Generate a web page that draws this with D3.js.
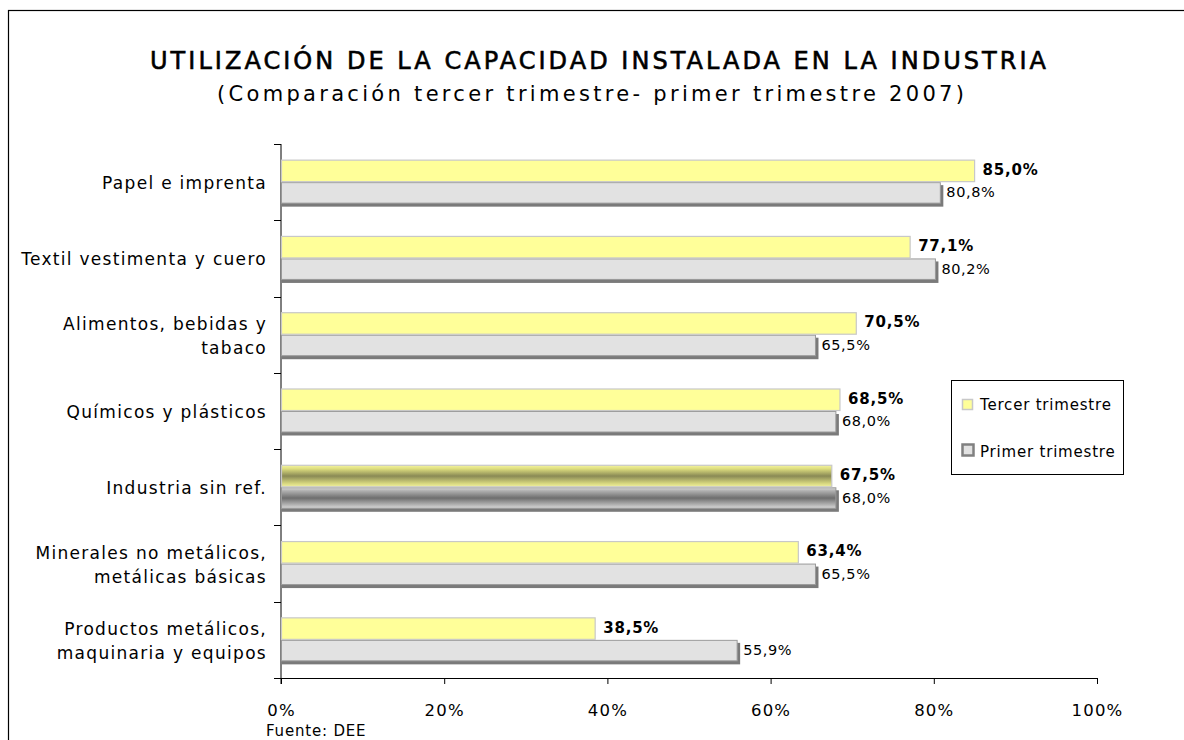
<!DOCTYPE html>
<html><head><meta charset="utf-8">
<script src="https://cdn.jsdelivr.net/npm/d3@7"></script>
<style>
body{margin:0;background:#fff;}
text{font-family:"DejaVu Sans",Verdana,sans-serif;}
</style></head>
<body><svg id="c" width="1184" height="740"></svg>
<script>
const categories = [
  ["Papel e imprenta"],
  ["Textil vestimenta y cuero"],
  ["Alimentos, bebidas y","tabaco"],
  ["Químicos y plásticos"],
  ["Industria sin ref."],
  ["Minerales no metálicos,","metálicas básicas"],
  ["Productos metálicos,","maquinaria y equipos"]
];
const tercer = [85.0, 77.1, 70.5, 68.5, 67.5, 63.4, 38.5];
const primer = [80.8, 80.2, 65.5, 68.0, 68.0, 65.5, 55.9];
const xTicks = [0, 20, 40, 60, 80, 100];
const highlightIndex = 4;

const svg = d3.select("#c");
const defs = svg.append("defs");
const gy = defs.append("linearGradient").attr("id","gy").attr("x1",0).attr("x2",0).attr("y1",0).attr("y2",1);
[[0,"#f4f4a0"],[0.15,"#e0e080"],[0.5,"#8a8a55"],[0.85,"#d8d880"],[1,"#f0f0a0"]].forEach(s=>gy.append("stop").attr("offset",s[0]).attr("stop-color",s[1]));
const gg = defs.append("linearGradient").attr("id","gg").attr("x1",0).attr("x2",0).attr("y1",0).attr("y2",1);
[[0,"#d8d8d8"],[0.15,"#b0b0b0"],[0.5,"#6e6e6e"],[0.85,"#b8b8b8"],[1,"#d8d8d8"]].forEach(s=>gg.append("stop").attr("offset",s[0]).attr("stop-color",s[1]));

// frame
svg.append("rect").attr("x",8.5).attr("y",10.5).attr("width",1200).attr("height",800)
  .attr("fill","none").attr("stroke","#000").attr("stroke-width",1.2);

// title
svg.append("text").attr("x",150).attr("y",69)
  .attr("font-size",24).attr("fill","#000").attr("stroke","#000").attr("stroke-width",0.6)
  .attr("textLength",896).attr("lengthAdjust","spacing")
  .text("UTILIZACIÓN DE LA CAPACIDAD INSTALADA EN LA INDUSTRIA");
svg.append("text").attr("x",217).attr("y",101)
  .attr("font-size",21).attr("fill","#000")
  .attr("textLength",747).attr("lengthAdjust","spacing")
  .text("(Comparación tercer trimestre- primer trimestre 2007)");

const x0 = 281, x1 = 1097, yTop = 144, yBot = 678;
const x = d3.scaleLinear().domain([0,100]).range([x0,x1]);
const y = d3.scaleBand().domain(d3.range(categories.length)).range([yTop,yBot]).paddingInner(0.41).paddingOuter(0.205);
const bh = y.bandwidth()/2;

// axes
const xAxis = d3.axisBottom(x).tickValues(xTicks).tickFormat(d=>d+"%").tickSize(6).tickSizeOuter(0);
const gx = svg.append("g").attr("transform",`translate(0,${yBot})`).call(xAxis);
gx.select(".domain").attr("stroke","#000");
gx.selectAll(".tick line").attr("stroke","#000");
gx.selectAll(".tick text").attr("font-size",16.5).attr("fill","#000").attr("dy","1.75em")
  .attr("letter-spacing",1.2)
  .attr("font-family","'DejaVu Sans',Verdana,sans-serif");

const yb = d3.scaleLinear().domain([0,categories.length]).range([yTop,yBot]);
const gyAxis = svg.append("g");
gyAxis.append("line").attr("x1",x0).attr("x2",x0).attr("y1",yTop).attr("y2",yBot+6).attr("stroke","#000");
gyAxis.selectAll("line.t").data(d3.range(categories.length+1)).join("line").attr("class","t")
  .attr("x1",x0-7).attr("x2",x0).attr("y1",d=>Math.round(yb(d))+0.5).attr("y2",d=>Math.round(yb(d))+0.5).attr("stroke","#000");

// category labels
categories.forEach((lines,i)=>{
  const cy = y(i)+y.bandwidth()/2;
  const t = svg.append("text").attr("text-anchor","end").attr("font-size",17)
    .attr("letter-spacing",1.3).attr("fill","#000");
  const n = lines.length;
  lines.forEach((l,j)=>{
    t.append("tspan").attr("x",267).attr("y",cy+7+(j-(n-1)/2)*24).text(l);
  });
});

// bars
const bars = svg.append("g");
bars.selectAll("rect.ps").data(primer).join("rect").attr("class","ps")
  .attr("x",x0+1).attr("y",(d,i)=>y(i)+bh+3).attr("width",d=>x(d)-x0+2).attr("height",bh-1)
  .attr("fill","#7a7a7a");
bars.selectAll("rect.p").data(primer).join("rect").attr("class","p")
  .attr("x",x0+0.5).attr("y",(d,i)=>y(i)+bh+0.5).attr("width",d=>x(d)-x0-0.5).attr("height",bh-2)
  .attr("fill",(d,i)=>i===highlightIndex?"url(#gg)":"#e2e2e2").attr("stroke","#9a9a9a").attr("stroke-width",1);
bars.selectAll("rect.t").data(tercer).join("rect").attr("class","t")
  .attr("x",x0+0.5).attr("y",(d,i)=>y(i)+0.5).attr("width",d=>x(d)-x0-0.5).attr("height",bh-1)
  .attr("fill",(d,i)=>i===highlightIndex?"url(#gy)":"#ffff99").attr("stroke","#c8c8c8").attr("stroke-width",1.2);

const fmt = v => v.toFixed(1).replace(".",",")+"%";
svg.selectAll("text.lt").data(tercer).join("text").attr("class","lt")
  .attr("x",d=>x(d)+8).attr("y",(d,i)=>y(i)+bh/2+4).attr("font-size",15).attr("font-weight","bold")
  .attr("letter-spacing",0.8).attr("fill","#000")
  .text(fmt);
svg.selectAll("text.lp").data(primer).join("text").attr("class","lp")
  .attr("x",d=>x(d)+6).attr("y",(d,i)=>y(i)+bh*1.5+4).attr("font-size",14.5)
  .attr("letter-spacing",0.6).attr("fill","#000")
  .text(fmt);

// legend
const lg = svg.append("g");
lg.append("rect").attr("x",951.5).attr("y",380.5).attr("width",172).attr("height",94).attr("fill","#fff").attr("stroke","#000");
lg.append("rect").attr("x",962.5).attr("y",399.5).attr("width",10).attr("height",10).attr("fill","#ffff99").attr("stroke","#c8c8c8").attr("stroke-width",1.5);
lg.append("text").attr("x",980).attr("y",410).attr("font-size",15).attr("letter-spacing",0.8).text("Tercer trimestre");
lg.append("rect").attr("x",962.5).attr("y",444.5).attr("width",11).attr("height",11).attr("fill","#e2e2e2").attr("stroke","#808080").attr("stroke-width",2.5);
lg.append("text").attr("x",980).attr("y",457).attr("font-size",15).attr("letter-spacing",0.8).text("Primer trimestre");

svg.append("text").attr("x",266).attr("y",736).attr("font-size",15).attr("letter-spacing",0.8)
  .attr("fill","#000").text("Fuente: DEE");
</script></body></html>
